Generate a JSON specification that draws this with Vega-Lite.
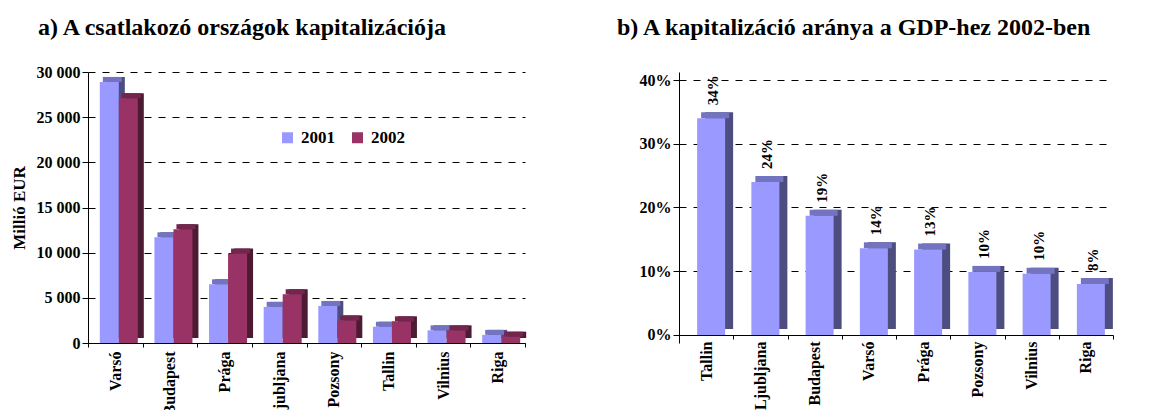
{
  "$schema": "https://vega.github.io/schema/vega-lite/v6.json",
  "background": "white",
  "padding": {"left": 10, "top": 16, "right": 0, "bottom": 0},
  "spacing": 90,
  "config": {
    "view": {"stroke": null},
    "font": "Liberation Serif",
    "axis": {
      "labelFont": "Liberation Serif", "labelFontWeight": "bold", "labelFontSize": 16, "labelColor": "black",
      "titleFont": "Liberation Serif", "titleFontWeight": "bold", "titleColor": "black",
      "domainColor": "black", "tickColor": "black"
    },
    "legend": {"labelFont": "Liberation Serif"},
    "title": {"font": "Liberation Serif", "fontWeight": "bold", "fontSize": 24, "color": "black", "anchor": "start", "frame": "group"}
  },
  "datasets": {
    "cap": [
      {"city": "Varsó", "year": "2001", "v": 28900},
      {"city": "Varsó", "year": "2002", "v": 27100},
      {"city": "Budapest", "year": "2001", "v": 11700},
      {"city": "Budapest", "year": "2002", "v": 12600},
      {"city": "Prága", "year": "2001", "v": 6500},
      {"city": "Prága", "year": "2002", "v": 9900},
      {"city": "Ljubljana", "year": "2001", "v": 4000},
      {"city": "Ljubljana", "year": "2002", "v": 5400},
      {"city": "Pozsony", "year": "2001", "v": 4100},
      {"city": "Pozsony", "year": "2002", "v": 2500},
      {"city": "Tallin", "year": "2001", "v": 1800},
      {"city": "Tallin", "year": "2002", "v": 2400},
      {"city": "Vilnius", "year": "2001", "v": 1400},
      {"city": "Vilnius", "year": "2002", "v": 1400},
      {"city": "Riga", "year": "2001", "v": 900},
      {"city": "Riga", "year": "2002", "v": 700}
    ],
    "gdp": [
      {"city": "Tallin", "r": 0.34},
      {"city": "Ljubljana", "r": 0.24},
      {"city": "Budapest", "r": 0.187},
      {"city": "Varsó", "r": 0.136},
      {"city": "Prága", "r": 0.134},
      {"city": "Pozsony", "r": 0.099},
      {"city": "Vilnius", "r": 0.096},
      {"city": "Riga", "r": 0.08}
    ]
  },
  "hconcat": [
    {
      "width": 437,
      "height": 271,
      "title": {"text": "a) A csatlakozó országok kapitalizációja", "dx": -50, "offset": 24},
      "data": {"name": "cap"},
      "encoding": {
        "x": {
          "field": "city", "type": "nominal",
          "sort": ["Varsó", "Budapest", "Prága", "Ljubljana", "Pozsony", "Tallin", "Vilnius", "Riga"],
          "scale": {"paddingInner": 0, "paddingOuter": 0},
          "axis": {"title": null, "labelAngle": 270, "labelAlign": "right", "labelBaseline": "middle", "labelPadding": 4, "tickSize": 4, "tickBand": "extent", "grid": false}
        }
      },
      "layer": [
        {
          "transform": [{"filter": "datum.year === '2001'"}],
          "mark": {"type": "bar", "width": 19, "xOffset": 0, "yOffset": -5, "y2Offset": -5, "color": "#4D4D80"},
          "encoding": {
            "y": {
              "field": "v", "type": "quantitative",
              "scale": {"domain": [0, 30000], "nice": false},
              "axis": {
                "title": "Millió EUR", "titleFontSize": 17, "titlePadding": 8,
                "values": [0, 5000, 10000, 15000, 20000, 25000, 30000],
                "labelExpr": "replace(format(datum.value, ','), ',', ' ')",
                "tickSize": 6, "labelPadding": 2,
                "grid": true, "gridColor": "black", "gridDash": [7, 7], "gridWidth": 1, "gridOpacity": 1
              }
            }
          }
        },
        {
          "transform": [{"filter": "datum.year === '2001'"}],
          "mark": {"type": "bar", "width": 19, "xOffset": -3, "yOffset": -5, "y2Offset": 0, "color": "#7373BF"},
          "encoding": {"y": {"field": "v", "type": "quantitative"}, "y2": {"field": "v"}}
        },
        {
          "transform": [{"filter": "datum.year === '2001'"}],
          "mark": {"type": "bar", "width": 19, "xOffset": -6},
          "encoding": {
            "y": {"field": "v", "type": "quantitative"},
            "color": {
              "field": "year", "type": "nominal",
              "scale": {"domain": ["2001", "2002"], "range": ["#9999FF", "#993366"]},
              "legend": {
                "title": null, "orient": "none", "legendX": 191, "legendY": 57, "direction": "horizontal",
                "symbolType": "square", "symbolSize": 121, "symbolStrokeWidth": 0, "symbolOpacity": 1,
                "labelFont": "Liberation Serif", "labelFontWeight": "bold", "labelFontSize": 17, "labelColor": "black",
                "labelOffset": 5, "columnPadding": 14
              }
            }
          }
        },
        {
          "transform": [{"filter": "datum.year === '2002'"}],
          "mark": {"type": "bar", "width": 19, "xOffset": 19, "yOffset": -5, "y2Offset": -5, "color": "#4D1A33"},
          "encoding": {"y": {"field": "v", "type": "quantitative"}}
        },
        {
          "transform": [{"filter": "datum.year === '2002'"}],
          "mark": {"type": "bar", "width": 19, "xOffset": 16, "yOffset": -5, "y2Offset": 0, "color": "#73264D"},
          "encoding": {"y": {"field": "v", "type": "quantitative"}, "y2": {"field": "v"}}
        },
        {
          "transform": [{"filter": "datum.year === '2002'"}],
          "mark": {"type": "bar", "width": 19, "xOffset": 13},
          "encoding": {
            "y": {"field": "v", "type": "quantitative"},
            "color": {"field": "year", "type": "nominal"}
          }
        }
      ]
    },
    {
      "width": 434,
      "height": 271,
      "title": {"text": "b) A kapitalizáció aránya a GDP-hez 2002-ben", "dx": -62, "offset": 32},
      "data": {"name": "gdp"},
      "encoding": {
        "x": {
          "field": "city", "type": "nominal", "sort": null,
          "scale": {"paddingInner": 0, "paddingOuter": 0},
          "axis": {"title": null, "offset": -8, "labelAngle": 270, "labelAlign": "right", "labelBaseline": "middle", "labelPadding": 2, "tickSize": 4, "tickBand": "extent", "grid": false}
        }
      },
      "layer": [
        {
          "mark": {"type": "bar", "width": 28, "xOffset": 13, "yOffset": -6, "y2Offset": -6, "color": "#4D4D80"},
          "encoding": {
            "y": {
              "field": "r", "type": "quantitative",
              "scale": {"domain": [-0.01255, 0.41255], "nice": false, "zero": false},
              "axis": {
                "title": null, "format": ".0%",
                "values": [0, 0.05, 0.1, 0.15, 0.2, 0.25, 0.3, 0.35, 0.4],
                "tickSize": 6, "labelPadding": 2,
                "grid": true, "gridColor": "black", "gridDash": [7, 7], "gridWidth": 1, "gridOpacity": 1
              }
            }
          }
        },
        {
          "mark": {"type": "bar", "width": 28, "xOffset": 9, "yOffset": -6, "y2Offset": 0, "color": "#7373BF"},
          "encoding": {"y": {"field": "r", "type": "quantitative"}, "y2": {"field": "r"}}
        },
        {
          "mark": {"type": "bar", "width": 28, "xOffset": 5, "color": "#9999FF"},
          "encoding": {"y": {"field": "r", "type": "quantitative"}}
        },
        {
          "mark": {"type": "text", "angle": 270, "align": "left", "baseline": "middle", "dx": 13, "dy": 7, "font": "Liberation Serif", "fontWeight": "bold", "fontSize": 15, "color": "black"},
          "encoding": {
            "y": {"field": "r", "type": "quantitative"},
            "text": {"field": "r", "type": "quantitative", "format": ".0%"}
          }
        }
      ]
    }
  ]
}
